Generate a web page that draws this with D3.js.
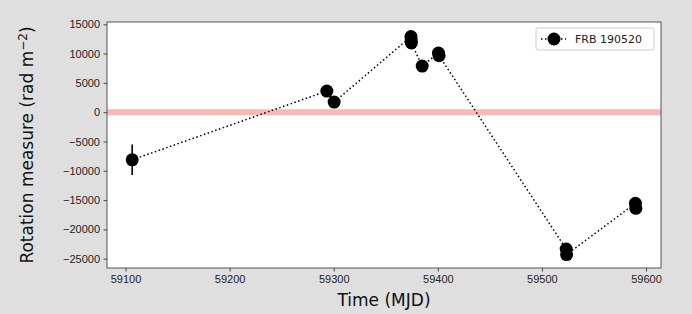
<!DOCTYPE html>
<html>
<head>
<meta charset="utf-8">
<script src="https://cdn.jsdelivr.net/npm/d3@7"></script>
<style>
  body { margin: 0; background: #dfdfdf; }
  svg { display: block; font-family: "DejaVu Sans", sans-serif; }
</style>
</head>
<body>
<div id="chart"></div>
<script>
// FRB 190520 rotation measure vs time
const mjd = [59106.4, 59293.4, 59300.4, 59374.2, 59374.4, 59374.6, 59385, 59400.6, 59401.2, 59523.3, 59523.7, 59589.8, 59590.2];
const rm  = [-8130, 3600, 1720, 12900, 12300, 11800, 7870, 10100, 9650, -23350, -24300, -15550, -16400];
const rmErr = [2600, 300, 300, 580, 300, 300, 300, 300, 300, 600, 380, 300, 300];
const xTicks = [59100, 59200, 59300, 59400, 59500, 59600];
const yTicks = [15000, 10000, 5000, 0, -5000, -10000, -15000, -20000, -25000];
const seriesName = "FRB 190520";

const W = 692, H = 314;
const m = {left: 107, right: 31, top: 22, bottom: 46};

const svg = d3.select('#chart')
  .append('svg')
  .attr('width', W)
  .attr('height', H);

// matplotlib-style 5% margins
const xExt = d3.extent(mjd);
const xPad = (xExt[1] - xExt[0]) * 0.05;
const yLo = d3.min(rm, (d, i) => d - rmErr[i]);
const yHi = d3.max(rm, (d, i) => d + rmErr[i]);
const yPad = (yHi - yLo) * 0.05;

const x = d3.scaleLinear()
  .domain([xExt[0] - xPad, xExt[1] + xPad])
  .range([m.left, W - m.right]);
const y = d3.scaleLinear()
  .domain([yLo - yPad, yHi + yPad])
  .range([H - m.bottom, m.top]);

svg.append('rect')
  .attr('x', m.left).attr('y', m.top)
  .attr('width', W - m.left - m.right)
  .attr('height', H - m.top - m.bottom)
  .attr('fill', 'white');

// zero line
svg.append('line')
  .attr('x1', m.left).attr('x2', W - m.right)
  .attr('y1', y(0)).attr('y2', y(0))
  .attr('stroke', 'rgba(240,80,80,0.4)')
  .attr('stroke-width', 6);

const pts = mjd.map((d, i) => ({t: d, v: rm[i], e: rmErr[i]}));

svg.append('path')
  .datum(pts)
  .attr('fill', 'none')
  .attr('stroke', 'black')
  .attr('stroke-width', 1.5)
  .attr('stroke-dasharray', '1.5,2.5')
  .attr('d', d3.line().x(d => x(d.t)).y(d => y(d.v)));

svg.selectAll('line.err')
  .data(pts)
  .join('line')
  .attr('class', 'err')
  .attr('x1', d => x(d.t)).attr('x2', d => x(d.t))
  .attr('y1', d => y(d.v - d.e)).attr('y2', d => y(d.v + d.e))
  .attr('stroke', 'black')
  .attr('stroke-width', 1.6);

svg.selectAll('circle.pt')
  .data(pts)
  .join('circle')
  .attr('class', 'pt')
  .attr('cx', d => x(d.t))
  .attr('cy', d => y(d.v))
  .attr('r', 6.5)
  .attr('fill', 'black');

// axes
const xAxis = svg.append('g')
  .attr('transform', `translate(0,${H - m.bottom})`)
  .call(d3.axisBottom(x).tickValues(xTicks).tickFormat(d3.format('d')).tickSize(3.5).tickPadding(3.5));
const yAxis = svg.append('g')
  .attr('transform', `translate(${m.left},0)`)
  .call(d3.axisLeft(y).tickValues(yTicks).tickFormat(d3.format('d')).tickSize(3.5).tickPadding(3.5));

[xAxis, yAxis].forEach(a => {
  a.select('.domain').remove();
  a.selectAll('text').attr('font-size', 11).attr('fill', '#222');
  a.selectAll('line').attr('stroke', '#444');
});

// frame
svg.append('rect')
  .attr('x', m.left).attr('y', m.top)
  .attr('width', W - m.left - m.right)
  .attr('height', H - m.top - m.bottom)
  .attr('fill', 'none')
  .attr('stroke', '#555')
  .attr('stroke-width', 1);

// axis labels
svg.append('text')
  .attr('x', (m.left + W - m.right) / 2)
  .attr('y', 306)
  .attr('text-anchor', 'middle')
  .attr('font-size', 17)
  .attr('fill', '#111')
  .text('Time (MJD)');

const yl = svg.append('text')
  .attr('transform', `translate(33,${(m.top + H - m.bottom) / 2}) rotate(-90)`)
  .attr('text-anchor', 'middle')
  .attr('font-size', 17)
  .attr('fill', '#111');
yl.append('tspan').text('Rotation measure (rad m');
yl.append('tspan').attr('dy', -6).attr('font-size', 12).text('−2');
yl.append('tspan').attr('dy', 6).text(')');

// legend
const lg = svg.append('g').attr('transform', 'translate(536,28)');
lg.append('rect')
  .attr('width', 118).attr('height', 22).attr('rx', 2)
  .attr('fill', 'white').attr('stroke', '#ccc');
lg.append('line')
  .attr('x1', 5).attr('x2', 30).attr('y1', 11).attr('y2', 11)
  .attr('stroke', 'black').attr('stroke-width', 1.5)
  .attr('stroke-dasharray', '1.5,2.5');
lg.append('circle').attr('cx', 18).attr('cy', 11).attr('r', 6.5).attr('fill', 'black');
lg.append('text')
  .attr('x', 39).attr('y', 15)
  .attr('font-size', 11).attr('fill', '#222')
  .text(seriesName);
</script>
</body>
</html>
